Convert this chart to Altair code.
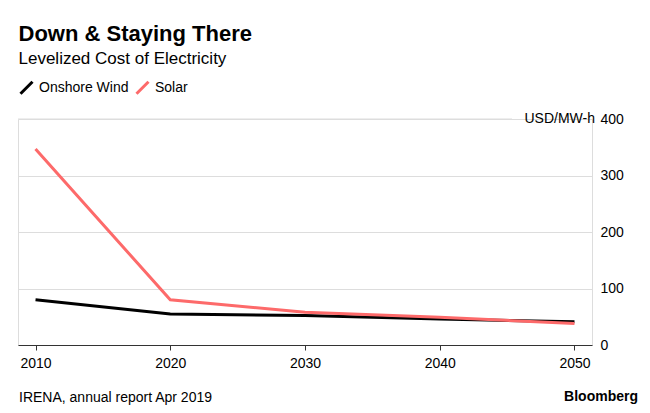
import altair as alt
import pandas as pd

years = [2010, 2020, 2030, 2040, 2050]
wind = [80, 55, 52, 46, 41]
solar = [347, 80, 58, 49, 38]
series = ["Onshore Wind", "Solar"]
colors = ["#000000", "#fd6a6a"]
y_ticks = [0, 100, 200, 300, 400]
x_ticks = [2010, 2020, 2030, 2040, 2050]
unit_label = ["USD/MW-h"]
footer = ["IRENA, annual report Apr 2019"]
brand = ["Bloomberg"]

df = pd.DataFrame({
    "year": years * 2,
    "value": wind + solar,
    "series": [series[0]] * len(years) + [series[1]] * len(years),
})

FONT = "Liberation Sans"
W, H = 574, 226

x_enc = alt.X(
    "year:Q",
    scale=alt.Scale(domain=[2008.7, 2051.3], nice=False, zero=False),
    axis=alt.Axis(values=x_ticks, format="d", title=None, grid=False,
                  domainColor="#333333", tickColor="#333333", tickSize=5,
                  labelFontSize=14, labelPadding=6, labelColor="#000000",
                  labelFont=FONT),
)
y_scale = alt.Scale(domain=[0, 400], nice=False)
y_enc = alt.Y(
    "value:Q",
    scale=y_scale,
    axis=alt.Axis(orient="right", values=y_ticks, title=None, domain=False,
                  ticks=False, grid=True,
                  gridOpacity={"condition": {"test": "datum.value === 400 || datum.value === 0",
                                             "value": 0},
                               "value": 1},
                  gridColor="#dddddd",
                  labelPadding=8, labelFontSize=14, labelColor="#000000",
                  labelFont=FONT, labelBaseline="middle"),
)

lines = alt.Chart(df).mark_line(strokeWidth=3).encode(
    x=x_enc,
    y=y_enc,
    color=alt.Color(
        "series:N",
        scale=alt.Scale(domain=series, range=colors),
        legend=alt.Legend(orient="none", legendX=1, legendY=-39,
                          direction="horizontal", title=None,
                          symbolType="M-1,1L1,-1", symbolSize=144,
                          symbolStrokeWidth=3, labelFontSize=14,
                          labelFont=FONT, labelColor="#000000",
                          columnPadding=1, labelOffset=5),
    ),
)

top_df = pd.DataFrame({"v": [y_ticks[-1]], "t": unit_label})
top_rule = alt.Chart(top_df).mark_rule(color="#dddddd", strokeWidth=1).encode(
    y=alt.Y("v:Q", scale=y_scale), x=alt.value(0), x2=alt.value(494)
)
top_text = alt.Chart(top_df).mark_text(
    align="right", baseline="middle", fontSize=14, font=FONT, color="#000000"
).encode(y=alt.Y("v:Q", scale=y_scale), x=alt.value(577), text="t:N")

foot_df = pd.DataFrame({"t": footer})
foot = alt.Chart(foot_df).mark_text(
    align="left", baseline="alphabetic", fontSize=14, font=FONT, color="#000000"
).encode(x=alt.value(1), y=alt.value(283), text="t:N")

brand_df = pd.DataFrame({"t": brand})
brand_txt = alt.Chart(brand_df).mark_text(
    align="right", baseline="alphabetic", fontSize=14, fontWeight="bold",
    font=FONT, color="#000000"
).encode(x=alt.value(620), y=alt.value(282), text="t:N")

chart = alt.layer(top_rule, lines, top_text, foot, brand_txt).properties(
    width=W, height=H,
    autosize=alt.AutoSizeParams(type="none"),
    padding={"left": 10, "top": 111, "right": 50, "bottom": 60},
    title=alt.TitleParams(
        "Down & Staying There",
        subtitle="Levelized Cost of Electricity",
        anchor="start", fontSize=22, fontWeight="bold", font=FONT,
        color="#000000", subtitleFont=FONT, subtitleFontSize=17,
        subtitleColor="#000000", offset=12, subtitlePadding=5, dx=1,
    ),
).configure_view(stroke=None).configure(background="white")

chart.save("out.html", embed_options={"renderer": "svg", "actions": False})
